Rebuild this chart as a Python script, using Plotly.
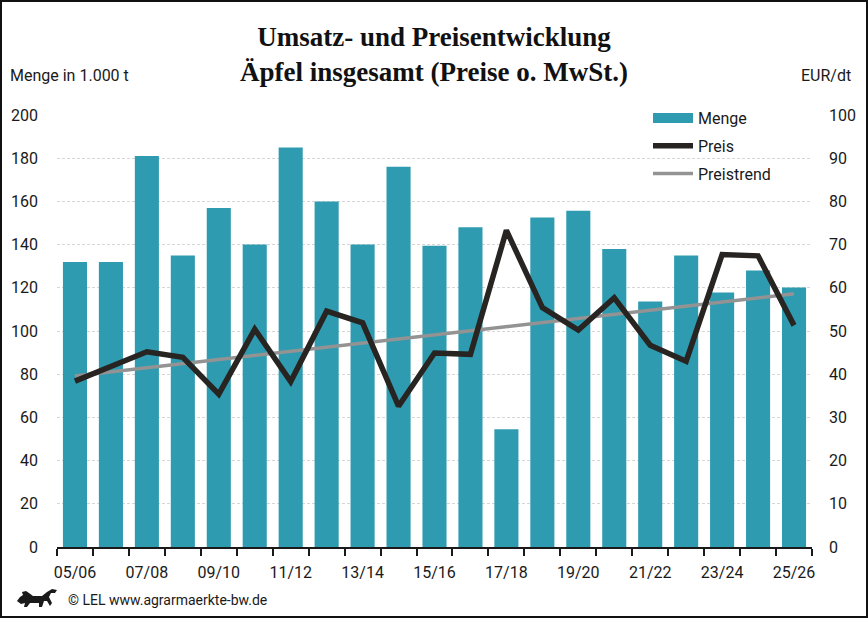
import plotly.graph_objects as go

categories = ["05/06", "06/07", "07/08", "08/09", "09/10", "10/11", "11/12",
              "12/13", "13/14", "14/15", "15/16", "16/17", "17/18", "18/19",
              "19/20", "20/21", "21/22", "22/23", "23/24", "24/25", "25/26"]
menge = [132, 132, 181, 135, 157, 140, 185, 160, 140, 176, 139.5, 148, 54.5,
         152.5, 155.7, 138, 113.6, 135, 117.8, 128, 120.1]
preis = [38.4, 41.8, 45.2, 43.9, 35.4, 50.4, 38.3, 54.6, 51.9, 32.6, 44.9,
         44.6, 73.3, 55.4, 50.2, 57.7, 46.7, 43.0, 67.7, 67.4, 51.3]
trend_x = ["05/06", "25/26"]
trend_y = [39.6, 58.6]
tick_labels = [c if i % 2 == 0 else "" for i, c in enumerate(categories)]
left_ticks = list(range(0, 201, 20))
right_ticks = list(range(0, 101, 10))

W, H = 868, 618
L, R, T, B = 57, 56, 115, 71
PW, PH = W - L - R, H - T - B

def px(x):
    return (x - L) / PW

def py(y):
    return (H - B - y) / PH

def poly(points):
    s = "M " + " L ".join("{:.5f},{:.5f}".format(px(a), py(b)) for a, b in points)
    return s + " Z"

sans = "Roboto"
teal = "#2f9bb0"
fig = go.Figure()
fig.add_trace(go.Bar(x=categories, y=menge, name="Menge", marker_color=teal,
                     marker_line_width=0, yaxis="y", showlegend=False))
# legend entry for Menge drawn as a wide bar symbol
fig.add_trace(go.Scatter(x=[None], y=[None], name="Menge", mode="lines",
                         line=dict(color=teal, width=11), yaxis="y",
                         legendgroup="a", legendrank=1, hoverinfo="skip"))
fig.add_trace(go.Scatter(x=trend_x, y=trend_y, name="Preistrend", mode="lines",
                         line=dict(color="#939393", width=3.5), yaxis="y2",
                         legendgroup="c", legendrank=3))
fig.add_trace(go.Scatter(x=categories, y=preis, name="Preis", mode="lines",
                         line=dict(color="#272421", width=5.5), yaxis="y2",
                         legendgroup="b", legendrank=2))

lion = [(17, 601), (20, 597), (23, 595), (22, 592), (26, 591), (29, 593),
        (33, 596), (42, 596), (47, 592), (52, 589), (57, 590), (55, 593),
        (51, 593), (49, 597), (52, 603), (50, 606), (47, 601), (44, 601),
        (42, 607), (39, 607), (39, 603), (30, 603), (27, 607), (24, 607),
        (25, 603), (21, 604)]

fig.update_layout(
    width=W, height=H,
    margin=dict(l=L, r=R, t=T, b=B, autoexpand=False),
    paper_bgcolor="white", plot_bgcolor="white",
    bargap=0.33,
    font=dict(family=sans, size=16, color="#1a1a1a"),
    showlegend=True,
    legend=dict(x=px(648), y=py(101), xanchor="left", yanchor="top",
                bgcolor="rgba(0,0,0,0)", font=dict(size=16, color="#1a1a1a"),
                tracegroupgap=4, itemwidth=40),
    xaxis=dict(type="category", categoryorder="array", categoryarray=categories,
               tickmode="array", tickvals=categories, ticktext=tick_labels,
               tickson="boundaries", ticks="outside", ticklen=7, tickwidth=2,
               tickcolor="#1a1a1a", showline=True, linecolor="#1a1a1a", linewidth=2,
               showgrid=False, tickangle=0, ticklabelstandoff=10,
               tickfont=dict(size=16), range=[-0.5, 20.5]),
    yaxis=dict(range=[0, 200], tickvals=left_ticks, showgrid=True,
               gridcolor="#d6d6d6", griddash="3px,2px", gridwidth=1,
               zeroline=False, showline=False, ticks="", ticklabelstandoff=18,
               tickfont=dict(size=16)),
    yaxis2=dict(range=[0, 100], tickvals=right_ticks, overlaying="y", side="right",
                showgrid=False, zeroline=False, showline=False, ticks="",
                ticklabelstandoff=16, tickfont=dict(size=16)),
    annotations=[
        dict(text="<b>Umsatz- und Preisentwicklung<br>Äpfel insgesamt (Preise o. MwSt.)</b>",
             x=px(434), y=py(20), xref="paper", yref="paper", xanchor="center",
             yanchor="top", showarrow=False,
             font=dict(family="Liberation Serif", size=27, color="#111111")),
        dict(text="Menge in 1.000 t", x=px(8), y=py(75), xref="paper", yref="paper",
             xanchor="left", yanchor="middle", showarrow=False,
             font=dict(family=sans, size=16, color="#1a1a1a")),
        dict(text="EUR/dt", x=px(853), y=py(75), xref="paper", yref="paper",
             xanchor="right", yanchor="middle", showarrow=False,
             font=dict(family=sans, size=16, color="#1a1a1a")),
        dict(text="© LEL www.agrarmaerkte-bw.de", x=px(66), y=py(600), xref="paper",
             yref="paper", xanchor="left", yanchor="middle", showarrow=False,
             font=dict(family=sans, size=14, color="#1a1a1a")),
    ],
    shapes=[
        dict(type="rect", xref="paper", yref="paper", x0=px(1), x1=px(867),
             y0=py(617), y1=py(1), line=dict(color="#111111", width=2),
             fillcolor="rgba(0,0,0,0)", layer="above"),
        dict(type="path", xref="paper", yref="paper", path=poly(lion),
             fillcolor="#1a1a1a", line=dict(width=0)),
    ],
)

fig.write_html("out.html", config={"displayModeBar": False},
               post_script="document.body.style.margin='0';document.body.style.padding='0';")
